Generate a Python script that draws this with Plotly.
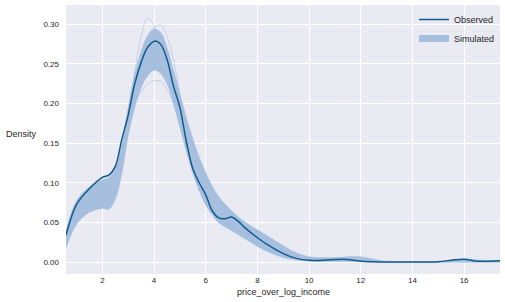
import plotly.graph_objects as go

# grid of x values (price_over_log_income)
x_obs = [0.59, 1.0, 1.5, 2.0, 2.25, 2.5, 2.75, 3.0, 3.25, 3.5, 3.75, 4.05, 4.25, 4.5,
         4.75, 5.0, 5.25, 5.5, 5.75, 6.0, 6.25, 6.5, 6.75, 7.0, 7.25, 7.5, 8.0,
         8.5, 9.0, 9.5, 10.0, 10.5, 11.0, 11.25, 11.5, 12.0, 12.5, 13.0, 14.0,
         15.0, 15.5, 16.0, 16.5, 17.0, 17.39]
observed = [0.034, 0.073, 0.093, 0.107, 0.110, 0.121, 0.155, 0.186, 0.225, 0.252,
            0.271, 0.279, 0.275, 0.256, 0.222, 0.195, 0.152, 0.118, 0.100, 0.085,
            0.065, 0.056, 0.055, 0.057, 0.052, 0.044, 0.031, 0.020, 0.011, 0.005,
            0.0025, 0.0025, 0.0035, 0.004, 0.0035, 0.0015, 0.0008, 0.0005, 0.0004,
            0.0008, 0.0025, 0.004, 0.0015, 0.0015, 0.002]

# envelope of the simulated densities
x_sim = [0.59, 1.0, 1.5, 2.0, 2.25, 2.5, 2.75, 3.0, 3.25, 3.5, 3.75, 4.0, 4.25,
         4.5, 4.75, 5.0, 5.25, 5.5, 5.75, 6.0, 6.25, 6.5, 7.0, 7.5, 8.0, 8.5,
         9.0, 9.5, 10.0, 10.5, 11.0, 11.5, 12.0, 12.5, 13.0, 14.0, 15.0, 16.0,
         17.0, 17.39]
sim_upper = [0.040, 0.078, 0.095, 0.104, 0.107, 0.118, 0.148, 0.195, 0.237, 0.266,
             0.286, 0.294, 0.290, 0.271, 0.242, 0.212, 0.182, 0.156, 0.132, 0.113,
             0.096, 0.083, 0.065, 0.051, 0.041, 0.031, 0.021, 0.012, 0.007, 0.006,
             0.006, 0.007, 0.007, 0.004, 0.0015, 0.001, 0.001, 0.004, 0.002, 0.002]
sim_lower = [0.018, 0.048, 0.063, 0.068, 0.067, 0.080, 0.112, 0.160, 0.195, 0.220,
             0.235, 0.242, 0.238, 0.225, 0.200, 0.170, 0.140, 0.112, 0.090, 0.072,
             0.060, 0.050, 0.040, 0.030, 0.020, 0.012, 0.006, 0.003, 0.0015, 0.001,
             0.001, 0.001, 0.0008, 0.0005, 0.0, 0.0, 0.0, 0.0, 0.0, 0.0]

# a few stray simulated curves around the peak
x_stray = [3.0, 3.25, 3.5, 3.75, 4.0, 4.25, 4.5, 4.75, 5.0]
sim_high_a = [0.19, 0.24, 0.285, 0.308, 0.298, 0.275, 0.25, 0.22, 0.19]
sim_high_b = [0.17, 0.22, 0.25, 0.28, 0.296, 0.299, 0.285, 0.255, 0.21]
sim_low = [0.17, 0.20, 0.215, 0.225, 0.229, 0.228, 0.218, 0.20, 0.175]

sim_col = "#a7bfdf"
obs_col = "#125b8c"

fig = go.Figure()

fig.add_trace(go.Scatter(x=x_sim, y=sim_lower, mode="lines", line=dict(color="rgba(167,191,223,0.6)", width=1, shape="spline"),
                         showlegend=False, hoverinfo="skip"))
fig.add_trace(go.Scatter(x=x_sim, y=sim_upper, mode="lines", fill="tonexty", fillcolor=sim_col,
                         line=dict(color="rgba(167,191,223,0.6)", width=1, shape="spline"),
                         name="Simulated", showlegend=False))

for ys in [sim_high_a, sim_high_b, sim_low]:
    fig.add_trace(go.Scatter(x=x_stray, y=ys, mode="lines",
                             line=dict(color="rgba(167,191,223,0.6)", width=1, shape="spline"),
                             showlegend=False, hoverinfo="skip"))

fig.add_trace(go.Scatter(x=x_obs, y=observed, mode="lines", name="Observed",
                         line=dict(color=obs_col, width=1.5, shape="spline")))

# legend entry for simulated as a patch
fig.add_trace(go.Scatter(x=[None], y=[None], mode="lines", name="Simulated",
                         line=dict(color=sim_col, width=7)))

fig.add_annotation(text="Density", xref="paper", yref="paper", x=0, y=0.52,
                   xanchor="left", yanchor="middle", xshift=-62, showarrow=False,
                   font=dict(size=9, color="#262626"))
fig.add_annotation(text="price_over_log_income", xref="paper", yref="paper", x=0.5, y=0,
                   xanchor="center", yanchor="middle", yshift=-18, showarrow=False,
                   font=dict(size=9, color="#262626"))

fig.update_layout(
    width=505, height=302,
    margin=dict(l=66, r=5, t=5, b=28),
    paper_bgcolor="white",
    plot_bgcolor="#eaeaf2",
    font=dict(family="Liberation Sans, Arial, sans-serif", size=8, color="#262626"),
    legend=dict(x=1, y=1, xanchor="right", yanchor="top", traceorder="normal",
                bgcolor="rgba(0,0,0,0)", font=dict(size=9), tracegroupgap=0,
                itemwidth=30),
    xaxis=dict(range=[0.59, 17.39], tickvals=[2, 4, 6, 8, 10, 12, 14, 16],
               showgrid=True, gridcolor="white", gridwidth=1, zeroline=False,
               showline=False, ticks="", automargin=False),
    yaxis=dict(range=[-0.0147, 0.3243], tickvals=[0, 0.05, 0.1, 0.15, 0.2, 0.25, 0.3],
               tickformat=".2f", showgrid=True, gridcolor="white", gridwidth=1,
               zeroline=False, showline=False, ticks="", ticklabelstandoff=6,
               automargin=False),
)

# drop the default page margin so the 505x302 figure fills the window
fig.write_html("out.html", config={"displayModeBar": False},
               post_script="document.body.style.margin='0';")
